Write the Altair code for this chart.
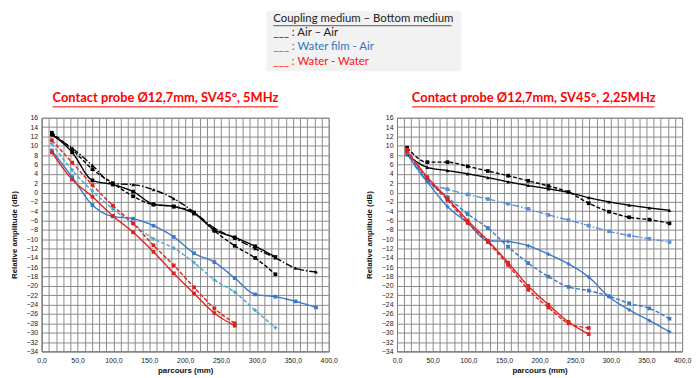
import altair as alt
import pandas as pd

# distance travelled (mm) for each echo
X_MM = [14.2, 42.5, 70.8, 99.1, 127.4, 155.8, 184.1, 212.4, 240.7, 269.0, 297.4, 325.7, 354.0, 382.3]

# ---- Panel 1 : 5 MHz ----
air_solid_5 = [12.5, 8.6, 2.6, 1.7, 0.2, -2.5, -3.0, -4.5, -8.0, -9.6, -11.5, -13.8]
air_dash_5 = [12.8, 9.2, 5.0, 2.0, -0.8, -2.6, -3.0, -4.3, -8.2, -11.4, -14.0, -17.5]
air_dashdot_5 = [12.3, 9.5, 5.8, 1.9, 1.7, 0.6, -1.3, -4.2, -7.6, -9.8, -12.0, -14.0, -16.2, -17.0]
film_solid_5 = [9.0, 3.3, -2.7, -5.1, -5.6, -7.1, -9.5, -13.0, -14.9, -18.3, -21.8, -22.3, -23.3, -24.6]
film_dash_5 = [10.5, 4.8, 0.3, -3.5, -6.7, -9.9, -11.9, -15.0, -18.7, -21.3, -25.2, -28.9]
water_solid_5 = [8.6, 2.8, -0.9, -5.0, -8.5, -12.7, -17.3, -21.6, -25.8, -28.5]
water_dash_5 = [11.2, 6.4, 1.6, -2.8, -6.6, -11.3, -15.6, -20.3, -24.8, -28.0]

# ---- Panel 2 : 2.25 MHz ----
air_solid_2 = [8.1, 5.4, 4.7, 4.0, 3.2, 2.3, 1.5, 0.8, 0.0, -1.1, -2.0, -2.7, -3.3, -3.8]
air_dash_2 = [9.6, 6.5, 6.5, 5.6, 4.6, 3.6, 2.5, 1.4, 0.1, -2.3, -4.1, -5.3, -5.8, -6.6]
film_dashdot_2 = [8.5, 2.4, 0.7, -0.4, -1.4, -2.4, -3.5, -4.8, -5.9, -7.1, -8.3, -9.2, -9.9, -10.6]
film_solid_2 = [8.2, 2.3, -3.0, -6.5, -10.3, -10.5, -11.4, -13.2, -15.3, -18.1, -22.3, -25.1, -27.4, -29.8]
film_dash_2 = [8.6, 2.6, -1.0, -4.6, -7.6, -11.6, -15.1, -18.0, -20.2, -21.0, -22.2, -23.7, -24.8, -27.0]
water_solid_2 = [8.8, 3.3, -1.3, -6.0, -10.3, -15.0, -20.0, -24.0, -27.7, -30.3]
water_dash_2 = [9.2, 3.0, -1.6, -6.5, -10.6, -15.5, -20.8, -24.6, -28.0, -29.0]

TITLE_5 = "Contact probe Ø12,7mm, SV45°, 5MHz"
TITLE_2 = "Contact probe Ø12,7mm, SV45°, 2,25MHz"
LEGEND_HEAD = "Coupling medium – Bottom medium"
LEGEND_LINES = ["___ : Air – Air", "___ : Water film - Air", "___ : Water - Water"]

BLACK, BLUE, TEAL, LBLUE, RED = "#000000", "#3a78c8", "#4aa8c8", "#5b8fd6", "#e0201c"
SOLID, DASH, DASHDOT = [1, 0], [4, 2], [7, 2, 1.5, 2]

# name -> (values, color, dash, marker)
series_5 = {
    "5_air_solid": (air_solid_5, BLACK, SOLID, "square"),
    "5_air_dash": (air_dash_5, BLACK, DASH, "square"),
    "5_air_dashdot": (air_dashdot_5, BLACK, DASHDOT, "triangle-up"),
    "5_film_solid": (film_solid_5, BLUE, SOLID, "square"),
    "5_film_dash": (film_dash_5, TEAL, DASH, "cross"),
    "5_water_solid": (water_solid_5, RED, SOLID, "square"),
    "5_water_dash": (water_dash_5, RED, DASH, "square"),
}
series_2 = {
    "2_air_solid": (air_solid_2, BLACK, SOLID, "triangle-up"),
    "2_air_dash": (air_dash_2, BLACK, DASH, "square"),
    "2_film_dashdot": (film_dashdot_2, LBLUE, DASHDOT, "square"),
    "2_film_solid": (film_solid_2, BLUE, SOLID, "cross"),
    "2_film_dash": (film_dash_2, BLUE, DASH, "square"),
    "2_water_solid": (water_solid_2, RED, SOLID, "square"),
    "2_water_dash": (water_dash_2, RED, DASH, "square"),
}
ALL = {**series_5, **series_2}
NAMES = list(ALL.keys())
COLORS = [ALL[n][1] for n in NAMES]
DASHES = [ALL[n][2] for n in NAMES]
SHAPES = [ALL[n][3] for n in NAMES]

FONT = "Liberation Sans"
TFONT = "Lato"


def frame(series):
    rows = []
    for name, (vals, *_rest) in series.items():
        for x, y in zip(X_MM, vals):
            rows.append({"series": name, "x": x, "y": y})
    return pd.DataFrame(rows)


xaxis = alt.Axis(
    values=list(range(0, 401, 10)),
    labelExpr="datum.value % 50 == 0 ? replace(format(datum.value, '.1f'), '.', ',') : ''",
    labelOverlap=False, labelFlush=False, ticks=False, title="parcours (mm)",
    labelFontSize=7, labelFont=FONT, labelColor="#222", labelPadding=5,
    titleFontSize=8, titleFont=FONT, titleFontWeight="bold", titlePadding=3, titleColor="#111",
    gridColor="#8c8c8c", gridOpacity=1, domainColor="#808080")
yaxis = alt.Axis(
    values=list(range(-34, 17, 2)), labelOverlap=False, labelFlush=False, ticks=False,
    title="Relative amplitude (dB)", labelFontSize=7, labelFont=FONT, labelColor="#222",
    labelPadding=4, titleFontSize=8, titleFont=FONT, titleFontWeight="bold", titlePadding=8,
    titleColor="#111", gridColor="#8c8c8c", gridOpacity=1, domainColor="#808080")

one = pd.DataFrame({"a": [0]})


def panel(series, title_text, tx, tw):
    df = frame(series)
    X = alt.X("x:Q", scale=alt.Scale(domain=[0, 400], nice=False, zero=False), axis=xaxis)
    Y = alt.Y("y:Q", scale=alt.Scale(domain=[-34, 16], nice=False, zero=False), axis=yaxis)
    C = alt.Color("series:N", scale=alt.Scale(domain=NAMES, range=COLORS), legend=None)
    lines = alt.Chart(df).mark_line(strokeWidth=1.4, interpolate="monotone").encode(
        x=X, y=Y, color=C,
        strokeDash=alt.StrokeDash("series:N", scale=alt.Scale(domain=NAMES, range=DASHES), legend=None),
        detail="series:N")
    pts = alt.Chart(df).mark_point(filled=True, size=14, opacity=1).encode(
        x=X, y=Y, color=C,
        shape=alt.Shape("series:N", scale=alt.Scale(domain=NAMES, range=SHAPES), legend=None))
    title = alt.Chart(one).mark_text(
        text=title_text, align="left", baseline="middle", font=TFONT, fontSize=13,
        fontWeight="bold", color="#ff0000").encode(x=alt.value(tx), y=alt.value(-20))
    underline = alt.Chart(one).mark_rule(color="#ff0000", strokeWidth=1).encode(
        x=alt.value(tx), x2=alt.value(tx + tw), y=alt.value(-11))
    return [lines, pts, title, underline]


layers5 = panel(series_5, TITLE_5, 11, 228)
layers2 = panel(series_2, TITLE_2, 15, 245)

# legend box (drawn in left panel, overflowing to the right; flush bounds)
box = alt.Chart(one).mark_rect(color="#f2f2f2").encode(
    x=alt.value(227), x2=alt.value(424), y=alt.value(-108), y2=alt.value(-47))
head = alt.Chart(one).mark_text(text=LEGEND_HEAD, align="left", baseline="middle",
                                font=TFONT, fontSize=11.5, color="#222").encode(
    x=alt.value(234), y=alt.value(-100))
head_ul = alt.Chart(one).mark_rule(color="#333", strokeWidth=0.8).encode(
    x=alt.value(234), x2=alt.value(414), y=alt.value(-93))
leg_layers = [box, head, head_ul]
for txt, col, yy in zip(LEGEND_LINES, ["#222222", "#2e75c0", "#ff1010"], [-86, -71, -56]):
    leg_layers.append(alt.Chart(one).mark_text(text=txt, align="left", baseline="middle",
                                               font=TFONT, fontSize=11.5, color=col).encode(
        x=alt.value(234), y=alt.value(yy)))

spacer = alt.Chart(one).mark_rect(opacity=0).encode(
    x=alt.value(-33), x2=alt.value(-32), y=alt.value(0), y2=alt.value(1))

left = alt.layer(spacer, *leg_layers, *layers5).properties(width=290, height=236)
right = alt.layer(*layers2).properties(width=288, height=236)

chart = alt.hconcat(left, right, spacing=69, bounds="flush").properties(
    padding=0).configure_view(stroke="#808080", strokeWidth=1)

chart.save("out.html", embed_options={"renderer": "svg", "actions": False})
